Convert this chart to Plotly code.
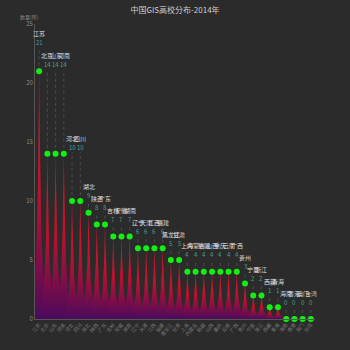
import numpy as np
import plotly.graph_objects as go

# ---- data ----
provinces = ["江苏", "北京", "山东", "河南", "河北", "四川", "湖北", "陕西", "广东",
             "吉林", "安徽", "湖南", "辽宁", "天津", "江西", "福建", "黑龙江", "甘肃",
             "上海", "内蒙古", "新疆", "山西", "重庆", "云南", "广西", "贵州", "宁夏",
             "浙江", "西藏", "青海", "海南", "香港", "澳门", "台湾"]
counts = [21, 14, 14, 14, 10, 10, 9, 8, 8, 7, 7, 7, 6, 6, 6, 6, 5, 5,
          4, 4, 4, 4, 4, 4, 4, 3, 2, 2, 1, 1, 0, 0, 0, 0]
y_ticks = [0, 5, 10, 15, 20, 25]
title_text = "中国GIS高校分布-2014年"
y_name = "数量(所)"

# ---- layout constants ----
W, H = 350, 350
M_L, M_R, M_T, M_B = 35, 35, 24, 31
Y_MAX = 25
PX_PER_UNIT = (H - M_T - M_B) / Y_MAX
FONT = "Noto Sans CJK SC"
BG = "#2b2b2b"
SPIKE_W = 3.0  # spike width in category units
label_off = {21: 29, 14: 89, 10: 54}  # px above the dot for value label
DEFAULT_OFF = 17

fig = go.Figure()

# spike shape (ECharts spike path) as cubic bezier
t = np.linspace(0, 1, 50)
def bez(p0, p1, p2, p3):
    return ((1 - t) ** 3) * p0 + 3 * ((1 - t) ** 2) * t * p1 + 3 * (1 - t) * t ** 2 * p2 + t ** 3 * p3
xr = bez(10, 5.5, 5.5, 5)      # right edge x (0..10)
hr = bez(0, 0, 0.5, 1)          # height fraction

for i, v in enumerate(counts):
    if v <= 0:
        continue
    rx = i + (xr - 5) / 10 * SPIKE_W
    lx = i - (xr - 5) / 10 * SPIKE_W
    xs = np.concatenate([lx, rx[::-1]])
    ys = np.concatenate([hr * v, (hr * v)[::-1]])
    fig.add_trace(go.Scatter(
        x=xs, y=ys, mode="lines", fill="toself",
        line=dict(width=0),
        fillgradient=dict(type="vertical",
                          colorscale=[[0, "#4a0b5e"], [0.22, "#860b4c"],
                                      [0.5, "#c80f30"], [1, "#f21428"]]),
        opacity=0.92, hoverinfo="skip", showlegend=False))

# dashed connector lines
for i, v in enumerate(counts):
    off = label_off.get(v, DEFAULT_OFF)
    top = v + (off - 5) / PX_PER_UNIT
    fig.add_trace(go.Scatter(
        x=[i, i], y=[v, top], mode="lines",
        line=dict(color="#4c4c4c", width=1, dash="dot"),
        hoverinfo="skip", showlegend=False))

# green dots
fig.add_trace(go.Scatter(
    x=list(range(len(counts))), y=counts, mode="markers",
    marker=dict(size=6, color="#12f012", line=dict(width=0)),
    cliponaxis=False, showlegend=False))

# labels
for i, (p, v) in enumerate(zip(provinces, counts)):
    off = label_off.get(v, DEFAULT_OFF)
    fig.add_annotation(x=i, y=v, text=str(v), showarrow=False, yshift=off,
                       font=dict(size=6, color="#4e9c8e", family=FONT))
    fig.add_annotation(x=i, y=v, text=p, showarrow=False, yshift=off + 9,
                       font=dict(size=6, color="#dddddd", family=FONT))

fig.update_layout(
    width=W, height=H,
    margin=dict(l=M_L, r=M_R, t=M_T, b=M_B),
    paper_bgcolor=BG, plot_bgcolor=BG,
    font=dict(family=FONT, color="#888888"),
    title=dict(text=title_text, x=0.5, xanchor="center", y=1 - 10 / H, yanchor="middle",
               font=dict(size=8, color="#cccccc", family=FONT)),
    showlegend=False,
    xaxis=dict(range=[-0.5, len(counts) - 0.5], tickvals=list(range(len(counts))),
               ticktext=provinces, tickangle=-50, tickfont=dict(size=5, color="#777777"),
               showgrid=False, zeroline=False, showline=True, linecolor="#555555",
               ticks="", fixedrange=True),
    yaxis=dict(range=[0, Y_MAX], tickvals=y_ticks, tickfont=dict(size=6, color="#888888"),
               showgrid=False, zeroline=False, showline=True, linecolor="#555555",
               ticks="", fixedrange=True),
)
fig.add_annotation(xref="paper", yref="paper", x=-0.02, y=1, yshift=13, text=y_name,
                   showarrow=False, xanchor="center",
                   font=dict(size=5, color="#888888", family=FONT))

fig.write_html("out.html")
